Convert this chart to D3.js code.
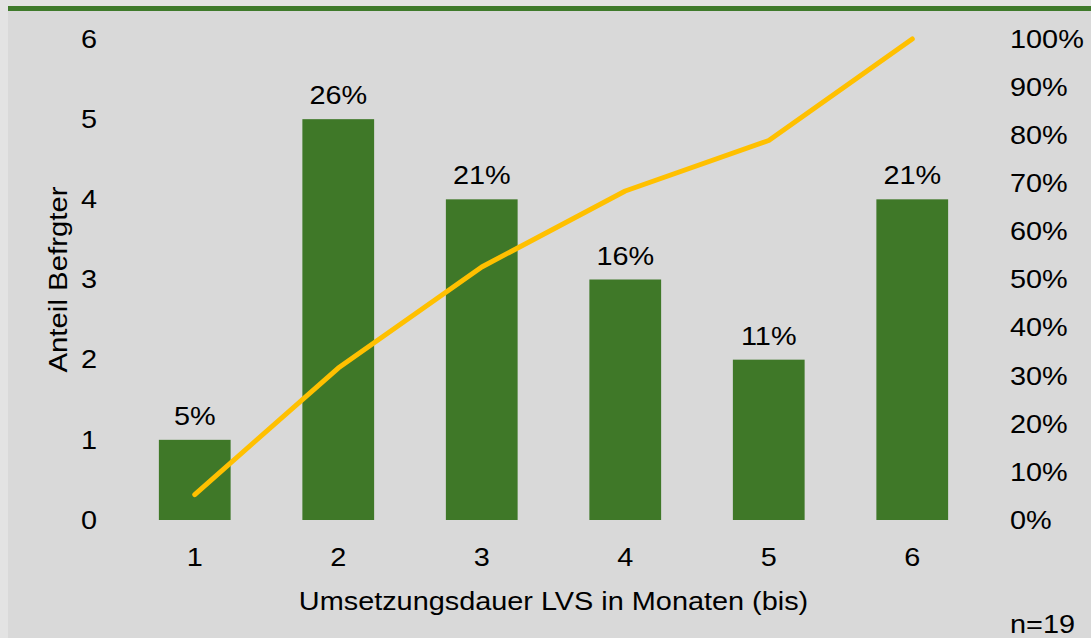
<!DOCTYPE html>
<html>
<head>
<meta charset="utf-8">
<script src="https://cdn.jsdelivr.net/npm/d3@7"></script>
<style>
  html, body { margin: 0; padding: 0; background: #e3e3e3; }
  svg { display: block; font-family: "Liberation Sans", Arial, sans-serif; }
</style>
</head>
<body>
<svg id="chart" width="1091" height="638"></svg>
<script>
// Survey: implementation duration of the warehouse management system (months)
const categories = ["1", "2", "3", "4", "5", "6"];
const counts = [1, 5, 4, 3, 2, 4];
const shareLabels = ["5%", "26%", "21%", "16%", "11%", "21%"];
const cumulativeShare = [0.053, 0.316, 0.526, 0.684, 0.789, 1.0];
const leftTicks = [0, 1, 2, 3, 4, 5, 6];
const rightTicks = [0, 0.1, 0.2, 0.3, 0.4, 0.5, 0.6, 0.7, 0.8, 0.9, 1.0];
const sampleNote = "n=19";

const W = 1091, H = 638;
const svg = d3.select("#chart");
const margin = { top: 39, bottom: 118, left: 123, right: 107 };

// Text is set slightly wide
const fontSize = 26;
const stretch = "scale(1.11,1)";

// panel background and top rule
svg.append("rect").attr("x", 8).attr("y", 6).attr("width", W - 8).attr("height", H - 6).attr("fill", "#d9d9d9");
svg.append("rect").attr("x", 8).attr("y", 6).attr("width", W - 8).attr("height", 5).attr("fill", "#3f7a2b");

const x = d3.scaleBand().domain(categories).range([margin.left, W - margin.right]).paddingInner(0.5).paddingOuter(0.25);
const y = d3.scaleLinear().domain([0, 6]).range([H - margin.bottom, margin.top]);
const y2 = d3.scaleLinear().domain([0, 1]).range([H - margin.bottom, margin.top]);

function styleAxis(g) {
  g.select(".domain").remove();
  g.selectAll("text")
    .attr("font-size", fontSize)
    .attr("fill", "#000")
    .attr("font-family", "Liberation Sans, Arial, sans-serif")
    .attr("transform", stretch);
}

// left axis
svg.append("g").attr("transform", `translate(97,0)`)
  .call(d3.axisLeft(y).tickValues(leftTicks).tickSize(0).tickPadding(0).tickFormat(d3.format("d")))
  .call(styleAxis);

// right axis
svg.append("g").attr("transform", `translate(1010,0)`)
  .call(d3.axisRight(y2).tickValues(rightTicks).tickSize(0).tickPadding(0).tickFormat(d3.format(".0%")))
  .call(styleAxis);

// bottom axis
svg.append("g").attr("transform", `translate(0,${H - margin.bottom + 20})`)
  .call(d3.axisBottom(x).tickSize(0).tickPadding(8))
  .call(styleAxis);

// bars
svg.append("g").selectAll("rect").data(categories).join("rect")
  .attr("x", d => x(d))
  .attr("y", (d, i) => y(counts[i]))
  .attr("width", x.bandwidth())
  .attr("height", (d, i) => y(0) - y(counts[i]))
  .attr("fill", "#3f7828");

// share labels above bars
svg.append("g").selectAll("g").data(categories).join("g")
  .attr("transform", (d, i) => `translate(${x(d) + x.bandwidth() / 2},${y(counts[i]) - 15}) ${stretch}`)
  .append("text")
  .attr("text-anchor", "middle")
  .attr("font-size", fontSize)
  .attr("fill", "#000")
  .text((d, i) => shareLabels[i]);

// cumulative share line
const line = d3.line()
  .x((d, i) => x(categories[i]) + x.bandwidth() / 2)
  .y(d => y2(d));
svg.append("path").datum(cumulativeShare)
  .attr("d", line)
  .attr("fill", "none")
  .attr("stroke", "#ffc000")
  .attr("stroke-width", 5)
  .attr("stroke-linecap", "round")
  .attr("stroke-linejoin", "round");

// axis titles
svg.append("g")
  .attr("transform", `translate(67,${(y(0) + y(6)) / 2}) rotate(-90) scale(1.13,1)`)
  .append("text")
  .attr("text-anchor", "middle")
  .attr("font-size", fontSize)
  .text("Anteil Befrgter");

svg.append("g")
  .attr("transform", `translate(${(x.range()[0] + x.range()[1]) / 2},610) ${stretch}`)
  .append("text")
  .attr("text-anchor", "middle")
  .attr("font-size", fontSize)
  .text("Umsetzungsdauer LVS in Monaten (bis)");

svg.append("g")
  .attr("transform", `translate(1010,633) ${stretch}`)
  .append("text")
  .attr("font-size", fontSize)
  .text(sampleNote);
</script>
</body>
</html>
